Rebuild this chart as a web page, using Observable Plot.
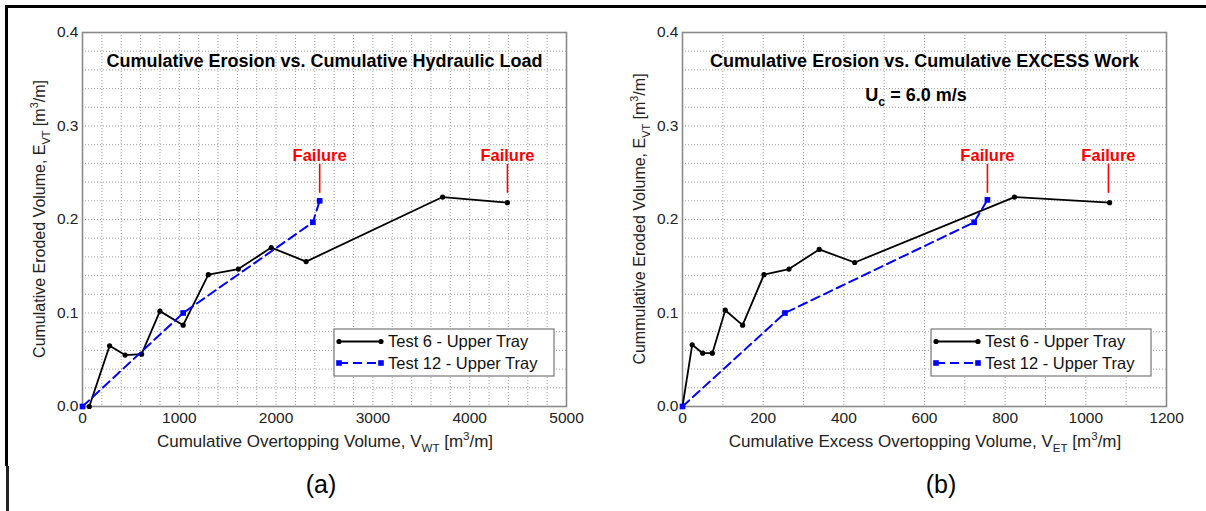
<!DOCTYPE html>
<html><head><meta charset="utf-8">
<script src="https://cdn.jsdelivr.net/npm/d3@7"></script>
<script src="https://cdn.jsdelivr.net/npm/@observablehq/plot@0.6"></script>
<style>
body{margin:0;background:#fff;}
#wrap{position:relative;width:1206px;height:511px;overflow:hidden;background:#fff;font-family:"Liberation Sans",Arial,Helvetica,sans-serif;}
.panel{position:absolute;top:0;}
.bt{position:absolute;left:5px;top:5px;width:1201px;height:2.5px;background:#000;}
.bl1{position:absolute;left:5px;top:5px;width:2.5px;height:461px;background:#000;}
.bl2{position:absolute;left:6px;top:466px;width:2.5px;height:45px;background:#222;}
.cap{position:absolute;top:470px;font-size:25px;color:#000;transform:translateX(-50%);}
</style></head>
<body><div id="wrap">
<div class="bt"></div><div class="bl1"></div><div class="bl2"></div>
<div id="pa" class="panel" style="left:0px"></div>
<div id="pb" class="panel" style="left:600px"></div>
<div class="cap" style="left:321px">(a)</div>
<div class="cap" style="left:941px">(b)</div>
</div>
<script>
// ---------- data (a) ----------
const aTest6X  = [70, 280, 440, 610, 800, 1040, 1300, 1610, 1950, 2310, 3720, 4390];
const aTest6Y  = [0, 0.065, 0.055, 0.056, 0.102, 0.087, 0.141, 0.147, 0.170, 0.155, 0.224, 0.218];
const aTest12X = [0, 1040, 2380, 2450];
const aTest12Y = [0, 0.100, 0.197, 0.220];
const aFailX   = [2450, 4390];
const aXTicks  = [0, 1000, 2000, 3000, 4000, 5000];
// ---------- data (b) ----------
const bTest6X  = [0, 24, 50, 74, 106, 149, 202, 264, 339, 427, 823, 1059];
const bTest6Y  = [0, 0.066, 0.057, 0.057, 0.103, 0.087, 0.141, 0.147, 0.168, 0.154, 0.224, 0.218];
const bTest12X = [0, 254, 723, 756];
const bTest12Y = [0, 0.100, 0.197, 0.221];
const bFailX   = [756, 1056];
const bXTicks  = [0, 200, 400, 600, 800, 1000, 1200];
// ---------- shared ----------
const yTicks = [0, 0.1, 0.2, 0.3, 0.4];
const failLabelY = 0.268, failRuleTop = 0.259, failRuleBottom = 0.228;
const legendLabels = ["Test 6 - Upper Tray", "Test 12 - Upper Tray"];

const FONT = '"Liberation Sans", Arial, Helvetica, sans-serif';
const BLUE = "#0000ff";

function rich(sel, parts, fs) {
  let cur = 0;
  for (const [t, k] of parts) {
    const off = k === "sub" ? 0.3 * fs : k === "sup" ? -0.42 * fs : 0;
    const ts = sel.append("tspan").attr("dy", off - cur).text(t);
    if (k) ts.attr("font-size", 0.68 * fs);
    cur = off;
  }
}

function panel(o) {
  const W = o.width, H = 470, ML = 82, MR = o.width - 566, MT = 32, MB = H - 406;
  const t6 = o.t6x.map((x, i) => ({x, y: o.t6y[i]}));
  const t12 = o.t12x.map((x, i) => ({x, y: o.t12y[i]}));
  const fail = o.failX.map(x => ({x}));
  const svg = Plot.plot({
    width: W, height: H,
    marginLeft: ML, marginRight: MR, marginTop: MT, marginBottom: MB,
    style: {fontFamily: FONT, fontSize: "15.5px", color: "#222", background: "transparent"},
    x: {domain: o.xDomain, ticks: o.xTicks, tickFormat: d3.format("d"), tickSize: 0, tickPadding: 5, label: null},
    y: {domain: [0, 0.4], ticks: yTicks, tickFormat: d3.format(".1f"), tickSize: 0, tickPadding: 4, label: null},
    marks: [
      Plot.gridX(d3.range(0, o.xDomain[1] + 1e-9, o.xMinor), {stroke: "#a0a0a0", strokeOpacity: 1, strokeWidth: 1, strokeDasharray: "1,2"}),
      Plot.gridY(d3.range(0, 0.4001, 0.02), {stroke: "#a0a0a0", strokeOpacity: 1, strokeWidth: 1, strokeDasharray: "1,2"}),
      Plot.frame({stroke: "#8a8a8a", strokeWidth: 1.6}),
      Plot.line(t6, {x: "x", y: "y", stroke: "#000", strokeWidth: 1.8}),
      Plot.dot(t6, {x: "x", y: "y", fill: "#000", r: 2.6}),
      Plot.line(t12, {x: "x", y: "y", stroke: BLUE, strokeWidth: 2, strokeDasharray: "9,5"}),
      Plot.dot(t12, {x: "x", y: "y", fill: BLUE, symbol: "square", r: 3.2}),
      Plot.ruleX(fail, {x: "x", y1: failRuleBottom, y2: failRuleTop, stroke: "#ff0000", strokeWidth: 1.6}),
      Plot.text(fail, {x: "x", y: () => failLabelY, text: () => "Failure", fill: "#ff0000", fontWeight: "bold", fontSize: 16.5}),
      Plot.text([o.title], {frameAnchor: "top", lineAnchor: "middle", dy: 29, text: d => d, fontWeight: "bold", fontSize: 18, fill: "#000"})
    ]
  });
  const s = d3.select(svg);
  // y label
  const yl = s.append("text").attr("transform", "translate(45,219) rotate(-90)")
    .attr("text-anchor", "middle").attr("font-size", 16).attr("fill", "#222").attr("font-family", FONT);
  rich(yl, [[o.yLabel], ["E"], ["VT", "sub"], [" [m"], ["3", "sup"], ["/m]"]], 16);
  // x label
  const xl = s.append("text").attr("x", (ML + W - MR) / 2 + 1).attr("y", 447)
    .attr("text-anchor", "middle").attr("font-size", 17).attr("fill", "#222").attr("font-family", FONT);
  rich(xl, [[o.xLabel], ["V"], [o.xSub, "sub"], [" [m"], ["3", "sup"], ["/m]"]], 17);
  // extra note
  if (o.note) {
    const nt = s.append("text").attr("x", 316).attr("y", 101).attr("text-anchor", "middle")
      .attr("font-size", 18).attr("font-weight", "bold").attr("fill", "#000").attr("font-family", FONT);
    rich(nt, [["U"], ["c", "sub"], [" = 6.0 m/s"]], 18);
  }
  // legend
  const lx = o.legendX, ly = 329, lw = 220, lh = 47;
  const g = s.append("g").attr("font-family", FONT).attr("text-anchor", "start");
  g.append("rect").attr("x", lx).attr("y", ly).attr("width", lw).attr("height", lh)
    .attr("fill", "#fff").attr("stroke", "#777").attr("stroke-width", 1.2);
  const rows = [{c: "#000", dash: null, sym: "dot"}, {c: BLUE, dash: "9,5", sym: "sq"}];
  rows.forEach((r, i) => {
    const cy = ly + 12.5 + i * 21.5;
    const x1 = lx + 5, x2 = lx + 47;
    g.append("line").attr("x1", x1).attr("x2", x2).attr("y1", cy).attr("y2", cy)
      .attr("stroke", r.c).attr("stroke-width", i ? 2 : 1.8).attr("stroke-dasharray", r.dash);
    [x1, x2].forEach(px => {
      if (r.sym === "dot") g.append("circle").attr("cx", px).attr("cy", cy).attr("r", 2.6).attr("fill", r.c);
      else g.append("rect").attr("x", px - 2.8).attr("y", cy - 2.8).attr("width", 5.6).attr("height", 5.6).attr("fill", r.c);
    });
    g.append("text").attr("x", lx + 54).attr("y", cy).attr("dy", "0.36em").attr("text-anchor", "start")
      .attr("font-size", 16.5).attr("fill", "#111").text(legendLabels[i]);
  });
  return svg;
}

document.getElementById("pa").appendChild(panel({
  width: 600, xDomain: [0, 5000], xTicks: aXTicks, xMinor: 200,
  t6x: aTest6X, t6y: aTest6Y, t12x: aTest12X, t12y: aTest12Y, failX: aFailX,
  title: "Cumulative Erosion vs. Cumulative Hydraulic Load",
  yLabel: "Cumulative Eroded Volume, ", xLabel: "Cumulative Overtopping Volume, ", xSub: "WT",
  legendX: 334
}));
document.getElementById("pb").appendChild(panel({
  width: 606, xDomain: [0, 1200], xTicks: bXTicks, xMinor: 100,
  t6x: bTest6X, t6y: bTest6Y, t12x: bTest12X, t12y: bTest12Y, failX: bFailX,
  title: "Cumulative Erosion vs. Cumulative EXCESS Work",
  yLabel: "Cummulative Eroded Volume, ", xLabel: "Cumulative Excess Overtopping Volume, ", xSub: "ET",
  legendX: 331, note: true
}));
</script>
</body></html>
